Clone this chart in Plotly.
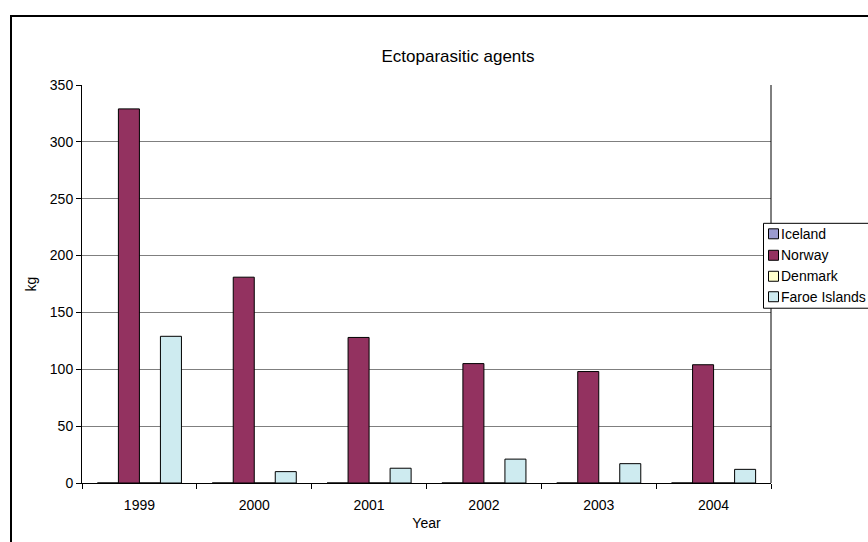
import plotly.graph_objects as go

years = ["1999", "2000", "2001", "2002", "2003", "2004"]
series_names = ["Iceland", "Norway", "Denmark", "Faroe Islands"]
iceland = [0, 0, 0, 0, 0, 0]
norway = [329, 181, 128, 105, 98, 104]
denmark = [0, 0, 0, 0, 0, 0]
faroe = [129, 10, 13, 21, 17, 12]
series_values = [iceland, norway, denmark, faroe]
colors = ["#9B9BD0", "#933260", "#FFFFCC", "#CEEBF0"]

W, H = 868, 542
L, R, T, B = 82, 771, 85, 483.5

def px_x(p):
    return (p - L) / (R - L)

def px_y(p):
    return (B - p) / (B - T)

fig = go.Figure()
for name, vals, col in zip(series_names, series_values, colors):
    fig.add_trace(go.Bar(
        x=years, y=vals, name=name, showlegend=False,
        marker=dict(color=col, line=dict(color="black", width=1)),
    ))

fig.update_layout(
    width=W, height=H,
    margin=dict(l=L, r=W - R, t=T, b=H - B, autoexpand=False),
    paper_bgcolor="white", plot_bgcolor="white",
    font=dict(family="Liberation Sans, Arial, sans-serif", size=14, color="black"),
    barmode="group", bargap=0.268, bargroupgap=0,
    title=dict(text="Ectoparasitic agents", font=dict(size=17),
               x=px_x(458), xref="paper", xanchor="center",
               y=1 - 56 / H, yref="container", yanchor="middle"),
    showlegend=False,
    xaxis=dict(type="category", showline=True, linecolor="black", linewidth=1,
               ticks="outside", tickson="boundaries", ticklen=5, tickcolor="black",
               ticklabelstandoff=9,
               showgrid=False, title=dict(text="Year", standoff=6, font=dict(size=14))),
    yaxis=dict(range=[0, 350], dtick=50, showline=True, linecolor="black", linewidth=1,
               ticks="outside", ticklen=5, tickcolor="black",
               showgrid=True, gridcolor="#7F7F7F", gridwidth=1, zeroline=False,
               title=dict(text="kg", standoff=9, font=dict(size=14))),
)

# right border of plot area
fig.add_shape(type="line", xref="paper", yref="paper", x0=1, x1=1, y0=0, y1=1,
              line=dict(color="black", width=1))
# outer chart border
fig.add_shape(type="rect", xref="paper", yref="paper",
              x0=px_x(11), x1=px_x(880), y0=px_y(16), y1=px_y(560),
              line=dict(color="black", width=2), layer="above")

# legend box (drawn to match the reference's compact layout)
fig.add_shape(type="rect", xref="paper", yref="paper",
              x0=px_x(763.5), x1=px_x(885), y0=px_y(223.5), y1=px_y(308.5),
              line=dict(color="black", width=1), fillcolor="white", layer="above")
item_y = [234, 255.5, 276.5, 297]
for name, col, yy in zip(series_names, colors, item_y):
    fig.add_shape(type="rect", xref="paper", yref="paper",
                  x0=px_x(768.5), x1=px_x(778.5), y0=px_y(yy - 5), y1=px_y(yy + 5),
                  line=dict(color="black", width=1), fillcolor=col, layer="above")
    fig.add_annotation(text=name, xref="paper", yref="paper",
                       x=px_x(780), y=px_y(yy), xanchor="left", yanchor="middle",
                       showarrow=False, font=dict(size=14), borderpad=0)

fig.write_html("out.html")
